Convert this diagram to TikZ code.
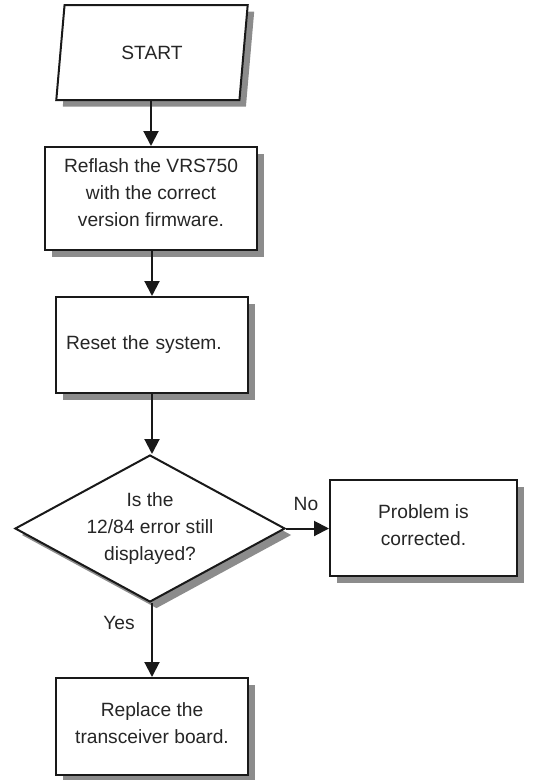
\documentclass[tikz,border=0pt]{standalone}
\usepackage{fontspec}
\setmainfont{Liberation Sans}
\usetikzlibrary{shapes.geometric,shadows,arrows.meta}
\begin{document}
\begin{tikzpicture}[x=1pt,y=-1pt,
  every node/.style={font=\fontsize{19.2}{27}\selectfont,text=black!85},
  shad/.style={drop shadow={shadow xshift=6.5pt,shadow yshift=-6.5pt,fill=black!45,opacity=1}},
  box/.style={draw=black!90,line width=2pt,fill=white,shad,align=center,inner sep=0pt},
  arr/.style={line width=2pt,draw=black!90,-{Triangle[length=15pt,width=15pt]}},
  lbl/.style={inner sep=0pt}
]
\useasboundingbox (0,0) rectangle (536,780);
\node[trapezium,trapezium stretches=true,trapezium left angle=78,trapezium right angle=102,
  draw=black!90,line width=2pt,fill=white,shad,minimum width=192pt,minimum height=95pt,inner sep=0pt]
  (start) at (152,52.5) {START\\[-23pt]};
\node[box,minimum width=212pt,minimum height=103pt] (reflash) at (151,198.5)
  {Reflash the VRS750\\with the correct\\version firmware.\\[-16pt]};
\node[box,minimum width=192pt,minimum height=96pt,text width=172pt,align=left] (reset) at (152,345)
  {Reset the system.\\[-21pt]};
\node[diamond,shape aspect=1.84,draw=black!90,line width=2pt,fill=white,shad,align=center,
  minimum width=270pt,minimum height=147pt,inner sep=0pt] (dec) at (150,528.5)
  {Is the\\12/84 error still\\displayed?};
\node[box,minimum width=187pt,minimum height=96pt] (ok) at (423.5,528)
  {Problem is\\corrected.\\[-21pt]};
\node[box,minimum width=192pt,minimum height=97pt] (repl) at (152,726.5)
  {Replace the\\transceiver board.\\[-20pt]};
\draw[arr] (start.south -| reflash.north) -- (reflash.north);
\draw[arr] (reflash.south -| reset.north) -- (reset.north);
\draw[arr] (reset.south) -- (dec.north -| reset.south);
\draw[arr] (dec.east) -- (ok.west |- dec.east);
\draw[arr] (dec.south -| repl.north) -- (repl.north);
\node[lbl] (no) at (306,504) {No};
\node[lbl] (yes) at (119,623) {Yes};
\end{tikzpicture}
\end{document}
